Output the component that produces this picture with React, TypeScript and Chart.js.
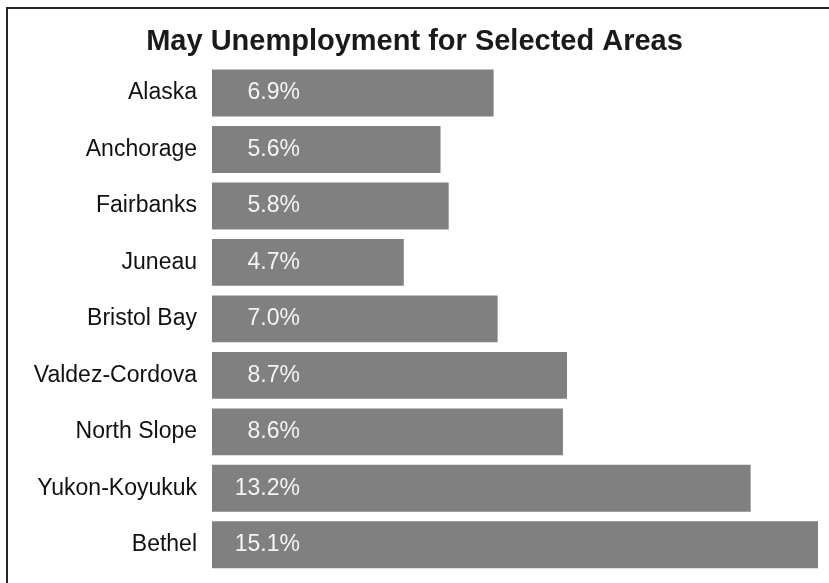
import React, { useEffect, useRef } from "react";
import { Chart, registerables } from "chart.js";

Chart.register(...registerables);

const categories = [
  "Alaska",
  "Anchorage",
  "Fairbanks",
  "Juneau",
  "Bristol Bay",
  "Valdez-Cordova",
  "North Slope",
  "Yukon-Koyukuk",
  "Bethel",
];
const rates = [6.9, 5.6, 5.8, 4.7, 7.0, 8.7, 8.6, 13.2, 15.1];
const rateLabels = ["6.9%", "5.6%", "5.8%", "4.7%", "7.0%", "8.7%", "8.6%", "13.2%", "15.1%"];
const titleText = "May Unemployment for Selected Areas";
const axisMax = 14.85;

const FONT = "'Liberation Sans', Arial, Helvetica, sans-serif";

const framePlugin = {
  id: "frame",
  beforeDraw(chart: any) {
    const ctx = chart.ctx;
    ctx.save();
    ctx.fillStyle = "#ffffff";
    ctx.fillRect(0, 0, chart.width, chart.height);
    ctx.strokeStyle = "#262626";
    ctx.lineWidth = 2;
    ctx.beginPath();
    ctx.moveTo(7, chart.height + 5);
    ctx.lineTo(7, 8);
    ctx.lineTo(chart.width + 5, 8);
    ctx.stroke();
    ctx.restore();
  },
};

const valueLabelPlugin = {
  id: "valueLabels",
  afterDatasetsDraw(chart: any) {
    const ctx = chart.ctx;
    const meta = chart.getDatasetMeta(0);
    const x0 = chart.scales.x.getPixelForValue(0);
    ctx.save();
    ctx.font = `23px ${FONT}`;
    ctx.fillStyle = "#f4f4f4";
    ctx.textAlign = "right";
    ctx.textBaseline = "middle";
    meta.data.forEach((bar: any, i: number) => {
      ctx.fillText(rateLabels[i], x0 + 88, bar.y);
    });
    ctx.restore();
  },
};

export default function App() {
  const ref = useRef<HTMLCanvasElement | null>(null);

  useEffect(() => {
    document.body.style.margin = "0";
    const canvas = ref.current!;
    const chart = new Chart(canvas, {
      type: "bar",
      data: {
        labels: categories,
        datasets: [
          {
            data: rates,
            backgroundColor: "#808080",
            borderWidth: 0,
            barPercentage: 0.83,
            categoryPercentage: 1,
            clip: 0,
          },
        ],
      },
      options: {
        indexAxis: "y",
        responsive: false,
        animation: false,
        devicePixelRatio: 1,
        layout: { padding: { top: 0, right: 11, bottom: 10, left: 11 } },
        plugins: {
          legend: { display: false },
          tooltip: { enabled: false },
          title: {
            display: true,
            text: titleText,
            color: "#1a1a1a",
            font: { family: FONT, size: 29, weight: "bold", lineHeight: 1.2 },
            padding: { top: 25, bottom: 5 },
          },
        },
        scales: {
          x: {
            display: false,
            min: 0,
            max: axisMax,
          },
          y: {
            grid: { display: false, drawTicks: false },
            border: { display: false },
            ticks: {
              color: "#111111",
              padding: 15,
              font: { family: FONT, size: 23 },
            },
            afterFit(scale: any) {
              scale.width = 201;
              scale.paddingTop = 0;
              scale.paddingBottom = 0;
            },
          },
        },
      },
      plugins: [framePlugin, valueLabelPlugin],
    } as any);
    return () => chart.destroy();
  }, []);

  return (
    <div style={{ position: "absolute", left: 0, top: 0, width: 829, height: 583 }}>
      <canvas ref={ref} width={829} height={583} style={{ display: "block" }} />
    </div>
  );
}
